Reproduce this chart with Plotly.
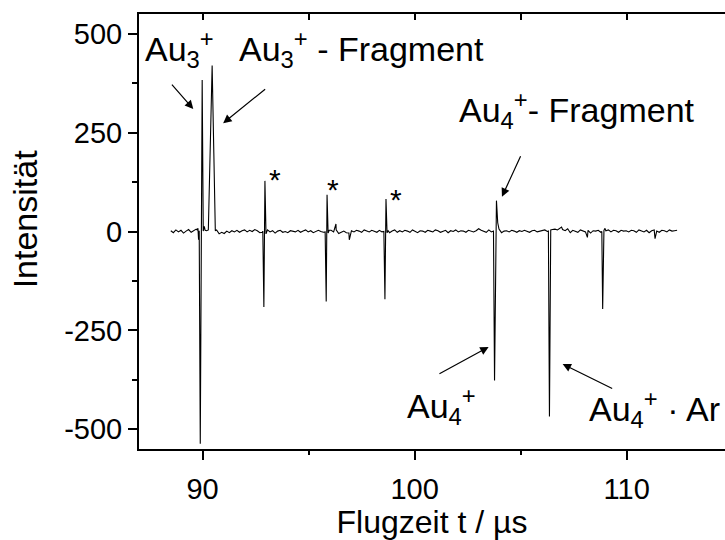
import numpy as np
import plotly.graph_objects as go

# Time-of-flight sampling grid (µs) and the baseline signal between the peaks
t_start = 88.5
t_step = 0.12
baseline = [
    2, -3, 4, -1, 3, -4, 1, 5, -2, 3, 6, 8, 2, 5, 4, 3, 5, 2, 4, -6,
    -2, -5, 1, -3, 2, -1, 3, -2, 2, 4, -1, 3, 0, 5, 2, -3, -2, 3, 4, -1,
    2, -4, 1, 3, -2, 0, -3, 2, 1, -1, 3, -2, 1, 4, -1, 2, -3, 1, 3, 0,
    -2, 1, 2, 3, -1, 4, -5, -2, 1, -3, -4, 2, -1, 3, 1, -2, 4, 2, -1, 3,
    1, -2, 3, -1, 2, 0, -3, 1, 4, -2, 2, -1, 3, 1, -2, 4, 0, -3, 2, 1,
    -2, 3, 1, -1, 4, 2, -2, 1, 3, -3, 2, 0, 4, -1, 2, 1, -2, 3, 1, -1,
    2, 7, 3, 1, -2, 4, -1, 2, 0, 3, -3, 1, 2, -1, 3, 1, -2, 2, 0, 3,
    1, -2, 2, 3, -1, 1, 2, 4, 0, 3, 5, 6, 4, 9, 5, 2, 7, -3, 3, 1,
    -2, 4, 2, -1, 3, -4, 2, 1, 3, -2, 1, 2, 4, -1, 3, 2, -2, 3, 1, 2,
    -1, 3, 2, -2, 4, 1, -1, 3, -3, 2, 4, 1, -2, 3, 2, -1, 4, 1, 2, 3,
]

# Peak groups: sample times (µs) and intensities
peak_t = [
    [89.74, 89.78, 89.81, 89.84, 89.89, 89.98, 90.03, 90.08, 90.12, 90.19, 90.27, 90.45, 90.53, 90.60],
    [92.84, 92.89, 92.94, 92.99, 93.04],
    [95.78, 95.83, 95.87, 95.92, 95.97],
    [96.29],
    [96.92],
    [98.55, 98.60, 98.65, 98.70, 98.75],
    [103.72, 103.77, 103.86, 103.92, 103.98, 104.05],
    [106.31, 106.36, 106.42],
    [106.93],
    [108.15],
    [108.83, 108.87, 108.93, 108.98],
    [111.34],
]
peak_v = [
    [4, 8, -21, 2, -537, 383, 1, 13, 3, 2, 4, 420, 197, 2],
    [1, -191, 128, -6, 2],
    [-1, -177, 93, -4, 3],
    [19],
    [-21],
    [0, -171, 82, -3, 2],
    [1, -377, 78, 22, 6, 0],
    [1, -468, 4],
    [11],
    [-15],
    [0, -196, 3, 8],
    [-18],
]

# Axis ticks
x_major = [90, 100, 110]
x_minor = [95, 105]
x_top = [90, 95, 100, 105, 110]
y_major = [-500, -250, 0, 250, 500]
y_major_text = ["-500", "-250", "0", "250", "500"]
y_minor = [-375, -125, 125, 375]

# Peak labels: (text, x, y) with left-aligned text
labels = [
    ("Au<sub>3</sub><sup>+</sup>", 87.18, 462),
    ("Au<sub>3</sub><sup>+</sup> - Fragment", 91.63, 462),
    ("Au<sub>4</sub><sup>+</sup>- Fragment", 102.0, 306),
    ("Au<sub>4</sub><sup>+</sup>", 99.54, -440),
    ("Au<sub>4</sub><sup>+</sup> · Ar", 108.12, -448),
]
# Arrows: (tail x, tail y, head x, head y)
arrows = [
    (88.49, 375, 89.56, 310),
    (93.02, 363, 90.97, 274),
    (105.03, 194, 104.12, 88),
    (101.10, -362, 103.49, -292),
    (109.39, -399, 106.98, -335),
]
# Asterisks marking the unassigned peaks
stars_t = [93.43, 96.16, 99.13]
stars_v = [131, 105, 80]

# Merge baseline and peak samples into one trace
t_noise = t_start + t_step * np.arange(len(baseline))
keep = np.ones(len(baseline), dtype=bool)
for ts in peak_t:
    keep &= ~((t_noise >= min(ts)) & (t_noise <= max(ts)))
t_all = np.concatenate([t_noise[keep]] + [np.array(ts, float) for ts in peak_t])
v_all = np.concatenate([np.array(baseline, float)[keep]] + [np.array(vs, float) for vs in peak_v])
order = np.argsort(t_all)
t_all, v_all = t_all[order], v_all[order]

FONT = "Liberation Sans, Arial, sans-serif"
X_RANGE = [87.0, 114.64]

fig = go.Figure()
fig.add_trace(go.Scatter(x=t_all, y=v_all, mode="lines",
                         line=dict(color="black", width=1.1),
                         showlegend=False, hoverinfo="skip"))
fig.add_trace(go.Scatter(x=[], y=[], xaxis="x2", showlegend=False, hoverinfo="skip"))

for text, x, y in labels:
    fig.add_annotation(x=x, y=y, xref="x", yref="y", text=text, showarrow=False,
                       xanchor="left", yanchor="middle",
                       font=dict(family=FONT, size=34, color="black"))
for tx, ty, hx, hy in arrows:
    fig.add_annotation(x=hx, y=hy, ax=tx, ay=ty, xref="x", yref="y",
                       axref="x", ayref="y", text="", showarrow=True,
                       arrowhead=2, arrowsize=1.4, arrowwidth=1.2, arrowcolor="black")
for x, y in zip(stars_t, stars_v):
    fig.add_annotation(x=x, y=y, xref="x", yref="y", text="*", showarrow=False,
                       xanchor="center", yanchor="middle",
                       font=dict(family=FONT, size=30, color="black"))

# Y-axis title, placed slightly above the axis centre
fig.add_annotation(x=-0.1945, y=0.528, xref="paper", yref="paper", text="Intensität",
                   textangle=-90, showarrow=False, xanchor="center", yanchor="middle",
                   font=dict(family=FONT, size=34, color="black"))

fig.update_layout(
    width=725, height=540,
    margin=dict(l=139, r=0, t=14, b=91),
    paper_bgcolor="white", plot_bgcolor="white",
    font=dict(family=FONT, color="black"),
    xaxis=dict(
        range=X_RANGE, tickvals=x_major, ticks="outside", ticklen=9, tickwidth=2,
        tickcolor="black", showline=True, linewidth=2, linecolor="black",
        showgrid=False, zeroline=False, tickfont=dict(size=29), ticklabelstandoff=4,
        minor=dict(tickvals=x_minor, ticks="outside", ticklen=4, tickwidth=2,
                   tickcolor="black", showgrid=False),
        title=dict(text="Flugzeit t / µs", font=dict(size=32), standoff=9),
    ),
    xaxis2=dict(
        range=X_RANGE, overlaying="x", side="top", tickvals=x_top,
        ticks="inside", ticklen=6, tickwidth=2, tickcolor="black",
        showticklabels=False, showline=True, linewidth=2, linecolor="black",
        showgrid=False, zeroline=False,
    ),
    yaxis=dict(
        range=[-550, 550], tickvals=y_major, ticktext=y_major_text,
        ticks="outside", ticklen=9, tickwidth=2,
        tickcolor="black", showline=True, linewidth=2, linecolor="black",
        showgrid=False, zeroline=False, tickfont=dict(size=29),
        minor=dict(tickvals=y_minor, ticks="outside", ticklen=5, tickwidth=2,
                   tickcolor="black", showgrid=False),
    ),
)

fig.write_html("out.html")
